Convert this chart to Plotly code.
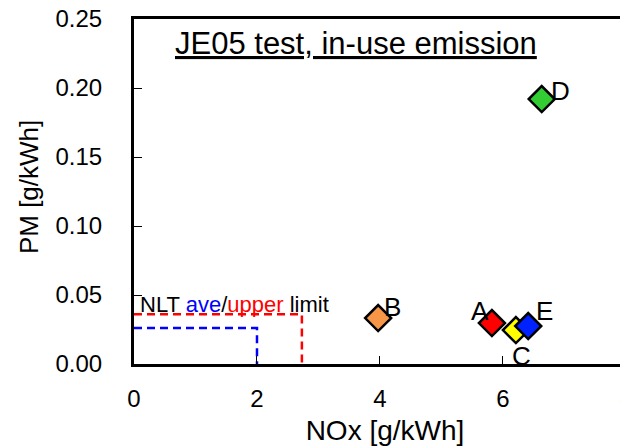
import plotly.graph_objects as go

# Data
names = ["A", "B", "C", "D", "E"]
nox = [5.82, 3.97, 6.21, 6.63, 6.41]
pm = [0.0297, 0.0333, 0.0246, 0.192, 0.0275]
colors = ["#ff0000", "#f79646", "#ffff00", "#33cc33", "#0022ff"]

# NLT limits (NOx, PM)
nlt_ave = [2.0, 0.026]
nlt_upper = [2.73, 0.036]

x_ticks = [0, 2, 4, 6, 8]
y_ticks = [0.00, 0.05, 0.10, 0.15, 0.20, 0.25]

FONT = "Liberation Sans, Arial, sans-serif"

fig = go.Figure()

# limit boxes
for lim, col in [(nlt_upper, "#ff0000"), (nlt_ave, "#0000ff")]:
    fig.add_trace(go.Scatter(
        x=[0, lim[0], lim[0]], y=[lim[1], lim[1], 0],
        mode="lines", line=dict(color=col, width=2.5, dash="8px,5px"),
        hoverinfo="skip", showlegend=False, cliponaxis=False))

# points
for n, xv, yv, c in zip(names, nox, pm, colors):
    fig.add_trace(go.Scatter(
        x=[xv], y=[yv], mode="markers", name=n,
        marker=dict(symbol="diamond", size=20, color=c,
                    line=dict(color="black", width=2.5)),
        showlegend=False, cliponaxis=False))

# point labels
offsets = {"A": (-12, 12), "B": (14, 11), "C": (6, -26), "D": (19, 8), "E": (16, 15)}
for n, xv, yv in zip(names, nox, pm):
    dx, dy = offsets[n]
    fig.add_annotation(x=xv, y=yv, xref="x", yref="y", text=n, showarrow=False,
                       xshift=dx, yshift=dy,
                       font=dict(family=FONT, size=26, color="black"))

# NLT text
fig.add_annotation(x=0.06, y=0.043, xref="x", yref="y", xanchor="left", yanchor="middle",
                   text="NLT <span style='color:#0000ff'>ave</span>/<span style='color:#ff0000'>upper</span> limit",
                   showarrow=False, font=dict(family=FONT, size=22, color="black"))

# title
fig.add_annotation(x=0.442, y=0.928, xref="paper", yref="paper", xanchor="center", yanchor="middle",
                   text="<u>JE05 test, in-use emission</u>", showarrow=False,
                   font=dict(family=FONT, size=31, color="black"))

# y-axis title
fig.add_annotation(x=-0.209, y=0.513, xref="paper", yref="paper", xanchor="center", yanchor="middle",
                   text="PM [g/kWh]", textangle=-90, showarrow=False,
                   font=dict(family=FONT, size=26, color="black"))

fig.update_layout(
    width=628, height=448,
    margin=dict(l=126, r=0, t=11, b=92),
    paper_bgcolor="white", plot_bgcolor="white",
    font=dict(family=FONT, color="black"),
    showlegend=False,
)
fig.update_xaxes(
    range=[0, 8.163], tickvals=x_ticks, ticktext=[str(v) for v in x_ticks],
    showline=True, linecolor="black", linewidth=3, mirror=True,
    ticks="inside", ticklen=8, tickwidth=1, tickcolor="black",
    showgrid=False, zeroline=False, automargin=False,
    tickfont=dict(family=FONT, size=24), ticklabelstandoff=11,
    ticklabeloverflow="allow",
    title=dict(text="NOx [g/kWh]", font=dict(family=FONT, size=28), standoff=10),
)
fig.update_yaxes(
    range=[0, 0.25], tickvals=y_ticks, ticktext=[f"{v:.2f}" for v in y_ticks],
    showline=True, linecolor="black", linewidth=3, mirror=False,
    ticks="inside", ticklen=8, tickwidth=1, tickcolor="black",
    showgrid=False, zeroline=False, automargin=False,
    tickfont=dict(family=FONT, size=24), ticklabelstandoff=24,
    ticklabeloverflow="allow",
)

fig.write_html("out.html")
